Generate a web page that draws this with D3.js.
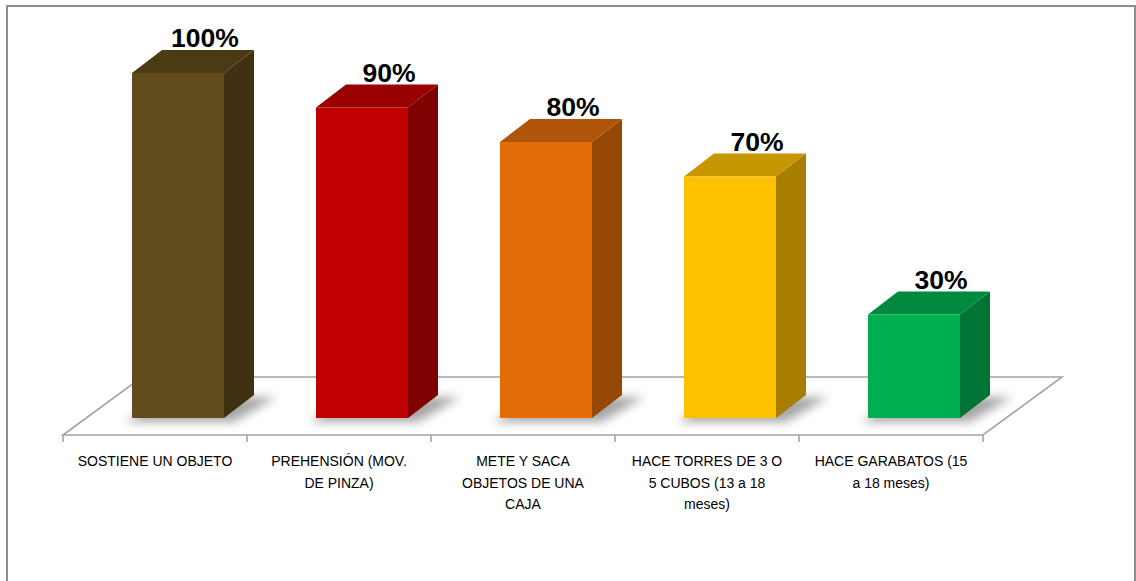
<!DOCTYPE html>
<html>
<head>
<meta charset="utf-8">
<script src="https://cdn.jsdelivr.net/npm/d3@7"></script>
<style>
  html, body { margin: 0; padding: 0; background: #fff; }
  svg { display: block; }
</style>
</head>
<body>
<svg id="chart" width="1136" height="581"></svg>
<script>
// ---- data ----
const categories = [
  ["SOSTIENE UN OBJETO"],
  ["PREHENSIÓN (MOV.", "DE PINZA)"],
  ["METE Y SACA", "OBJETOS DE UNA", "CAJA"],
  ["HACE TORRES DE 3 O", "5 CUBOS (13 a 18", "meses)"],
  ["HACE GARABATOS (15", "a 18 meses)"]
];
const values = [100, 90, 80, 70, 30];
const valueLabels = ["100%", "90%", "80%", "70%", "30%"];
const frontColors = ["#604c1c", "#c00000", "#e36c09", "#ffc000", "#00b050"];
const topColors   = ["#4b3b15", "#9a0000", "#b05409", "#c89600", "#00893f"];
const sideColors  = ["#3f3112", "#7e0000", "#954706", "#a87e00", "#007434"];

// ---- layout ----
const svg = d3.select("#chart");
const floorFrontY = 435;
const floorDX = 79, floorDY = -58;          // floor depth projection
const barDX = 30, barDY = -23;              // bar depth projection
const barOffX = 23, barOffY = -17;          // bar front offset from floor front

const x = d3.scaleBand().domain(d3.range(categories.length)).range([63, 983]).padding(0);
const h = d3.scaleLinear().domain([0, 100]).range([0, 345]);

// outer border
svg.append("rect").attr("x", 7).attr("y", 6).attr("width", 1128).attr("height", 600)
  .attr("fill", "none").attr("stroke", "#8e8e8e").attr("stroke-width", 2);

const defs = svg.append("defs");
defs.append("filter").attr("id", "shadow").attr("x", "-50%").attr("y", "-50%").attr("width", "200%").attr("height", "200%")
  .append("feGaussianBlur").attr("stdDeviation", 5);

// floor
const [x0, x1] = x.range();
svg.append("polygon")
  .attr("points", [[x0, floorFrontY], [x1, floorFrontY], [x1 + floorDX, floorFrontY + floorDY], [x0 + floorDX, floorFrontY + floorDY]].map(p => p.join(",")).join(" "))
  .attr("fill", "#fff").attr("stroke", "#a3a3a3").attr("stroke-width", 1.6).attr("stroke-linejoin", "miter");

// ticks
svg.append("g").selectAll("line").data(d3.range(categories.length + 1)).join("line")
  .attr("x1", i => x0 + i * x.step()).attr("x2", i => x0 + i * x.step())
  .attr("y1", floorFrontY).attr("y2", floorFrontY + 7)
  .attr("stroke", "#a3a3a3").attr("stroke-width", 1.6);

const bw = x.bandwidth() * 0.5;
const bars = values.map((v, i) => {
  const fl = x(i) + x.bandwidth() * 0.25 + barOffX;
  const fb = floorFrontY + barOffY;
  const ft = fb - h(v);
  return { i, v, fl, fr: fl + bw, fb, ft };
});

// shadows
svg.append("g").selectAll("polygon").data(bars).join("polygon")
  .attr("points", d => [[d.fl - 6, d.fb + 4], [d.fr + 10, d.fb + 4], [d.fr + barDX + 22, d.fb + barDY + 2], [d.fl + barDX, d.fb + barDY + 2]].map(p => p.join(",")).join(" "))
  .attr("fill", "#8a8a8a").attr("opacity", 0.75).attr("filter", "url(#shadow)");

// bars
const g = svg.append("g").selectAll("g").data(bars).join("g");
g.append("polygon") // side
  .attr("points", d => [[d.fr, d.fb], [d.fr + barDX, d.fb + barDY], [d.fr + barDX, d.ft + barDY], [d.fr, d.ft]].map(p => p.join(",")).join(" "))
  .attr("fill", d => sideColors[d.i]);
g.append("polygon") // top
  .attr("points", d => [[d.fl, d.ft], [d.fr, d.ft], [d.fr + barDX, d.ft + barDY], [d.fl + barDX, d.ft + barDY]].map(p => p.join(",")).join(" "))
  .attr("fill", d => topColors[d.i]);
g.append("rect") // front
  .attr("x", d => d.fl).attr("y", d => d.ft).attr("width", bw).attr("height", d => h(d.v))
  .attr("fill", d => frontColors[d.i]);

// value labels
svg.append("g").selectAll("text").data(bars).join("text")
  .attr("x", d => d.fl + bw / 2 + 27)
  .attr("y", d => d.ft + barDY - 3)
  .attr("text-anchor", "middle")
  .attr("font-family", "'Liberation Sans', Arial, sans-serif")
  .attr("font-weight", "bold").attr("font-size", 26.5).attr("fill", "#000")
  .text(d => valueLabels[d.i]);

// category labels
const cl = svg.append("g").selectAll("text").data(categories).join("text")
  .attr("text-anchor", "middle")
  .attr("font-family", "'Liberation Sans', Arial, sans-serif")
  .attr("font-size", 14).attr("fill", "#000");
cl.selectAll("tspan").data((d, i) => d.map(line => ({ line, i }))).join("tspan")
  .attr("x", d => x(d.i) + x.bandwidth() / 2)
  .attr("y", (d, j) => 466 + j * 21.5)
  .text(d => d.line);
</script>
</body>
</html>
